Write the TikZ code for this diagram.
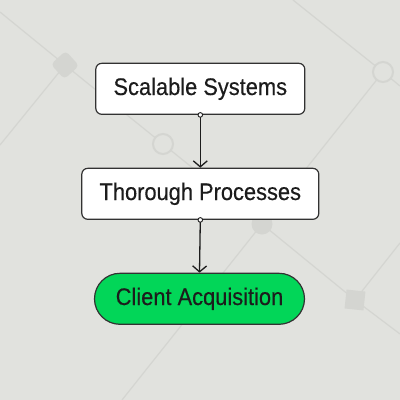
\documentclass[tikz,border=0pt]{standalone}
\usepackage{fontspec}
\setmainfont{Liberation Sans}[FakeStretch=0.91,FakeBold=0.35]
\usetikzlibrary{arrows.meta,calc}
\definecolor{bgc}{RGB}{225,226,222}
\definecolor{netc}{RGB}{212,213,209}
\definecolor{inkc}{RGB}{28,28,28}
\definecolor{edgec}{RGB}{50,50,50}
\definecolor{greenc}{RGB}{2,214,88}
\tikzset{
  netline/.style={draw=netc, line width=1.2pt},
  nethollow/.style={draw=netc, line width=2pt, fill=bgc},
  stepbox/.style={draw=edgec, line width=1.2pt, fill=white, rounded corners=6pt,
    minimum height=51pt, inner xsep=0pt, text=inkc, font=\fontsize{24}{28}\selectfont},
  goalbox/.style={stepbox, fill=greenc, rounded corners=25.5pt},
  flow/.style={draw=inkc, line width=1.3pt, -{Straight Barb[length=6pt,width=14pt,line width=1.3pt]}},
  startdot/.style={circle, draw=inkc, fill=white, line width=0.9pt, inner sep=0pt, minimum size=4.6pt}
}
\begin{document}
\begin{tikzpicture}[x=1pt,y=-1pt]
  \fill[bgc] (0,0) rectangle (400,400);
  \useasboundingbox (0,0) rectangle (400,400);
  % background network
  \coordinate (n1) at (65,65);
  \coordinate (n2) at (163,144);
  \coordinate (n3) at (383,72);
  \coordinate (n4) at (262,224);
  \coordinate (n5) at (355,300);
  \draw[netline] (0,12) -- (n1) -- (n2) -- (n4) -- (n5) -- (400,334);
  \draw[netline] (n1) -- (0,145);
  \draw[netline] (293,0) -- (n3) -- (400,86);
  \draw[netline] (n3) -- (n4) -- (122,400);
  \draw[netline] (n5) -- (400,243);
  \fill[netc, rounded corners=4pt, rotate around={42:(n1)}] ($(n1)+(-10,-10)$) rectangle ($(n1)+(10,10)$);
  \draw[nethollow] (n2) circle (10);
  \draw[nethollow] (n3) circle (10);
  \fill[netc] (n4) circle (10.5);
  \fill[netc, rotate around={-6:(n5)}] ($(n5)+(-9.5,-9.5)$) rectangle ($(n5)+(9.5,9.5)$);
  % main flow
  \node[stepbox, minimum width=209pt] (a) at (200.3,88.8) {Scalable Systems};
  \node[stepbox, minimum width=237pt] (b) at (200.3,193.8) {Thorough Processes};
  \node[goalbox, minimum width=210pt] (c) at (199.5,298.8) {Client Acquisition};
  \draw[flow] (a.south) -- (b.north);
  \draw[flow] (b.south) -- (c.north);
  \node[startdot] (da) at (a.south) {};
  \node[startdot] (db) at (b.south) {};
\end{tikzpicture}
\end{document}
